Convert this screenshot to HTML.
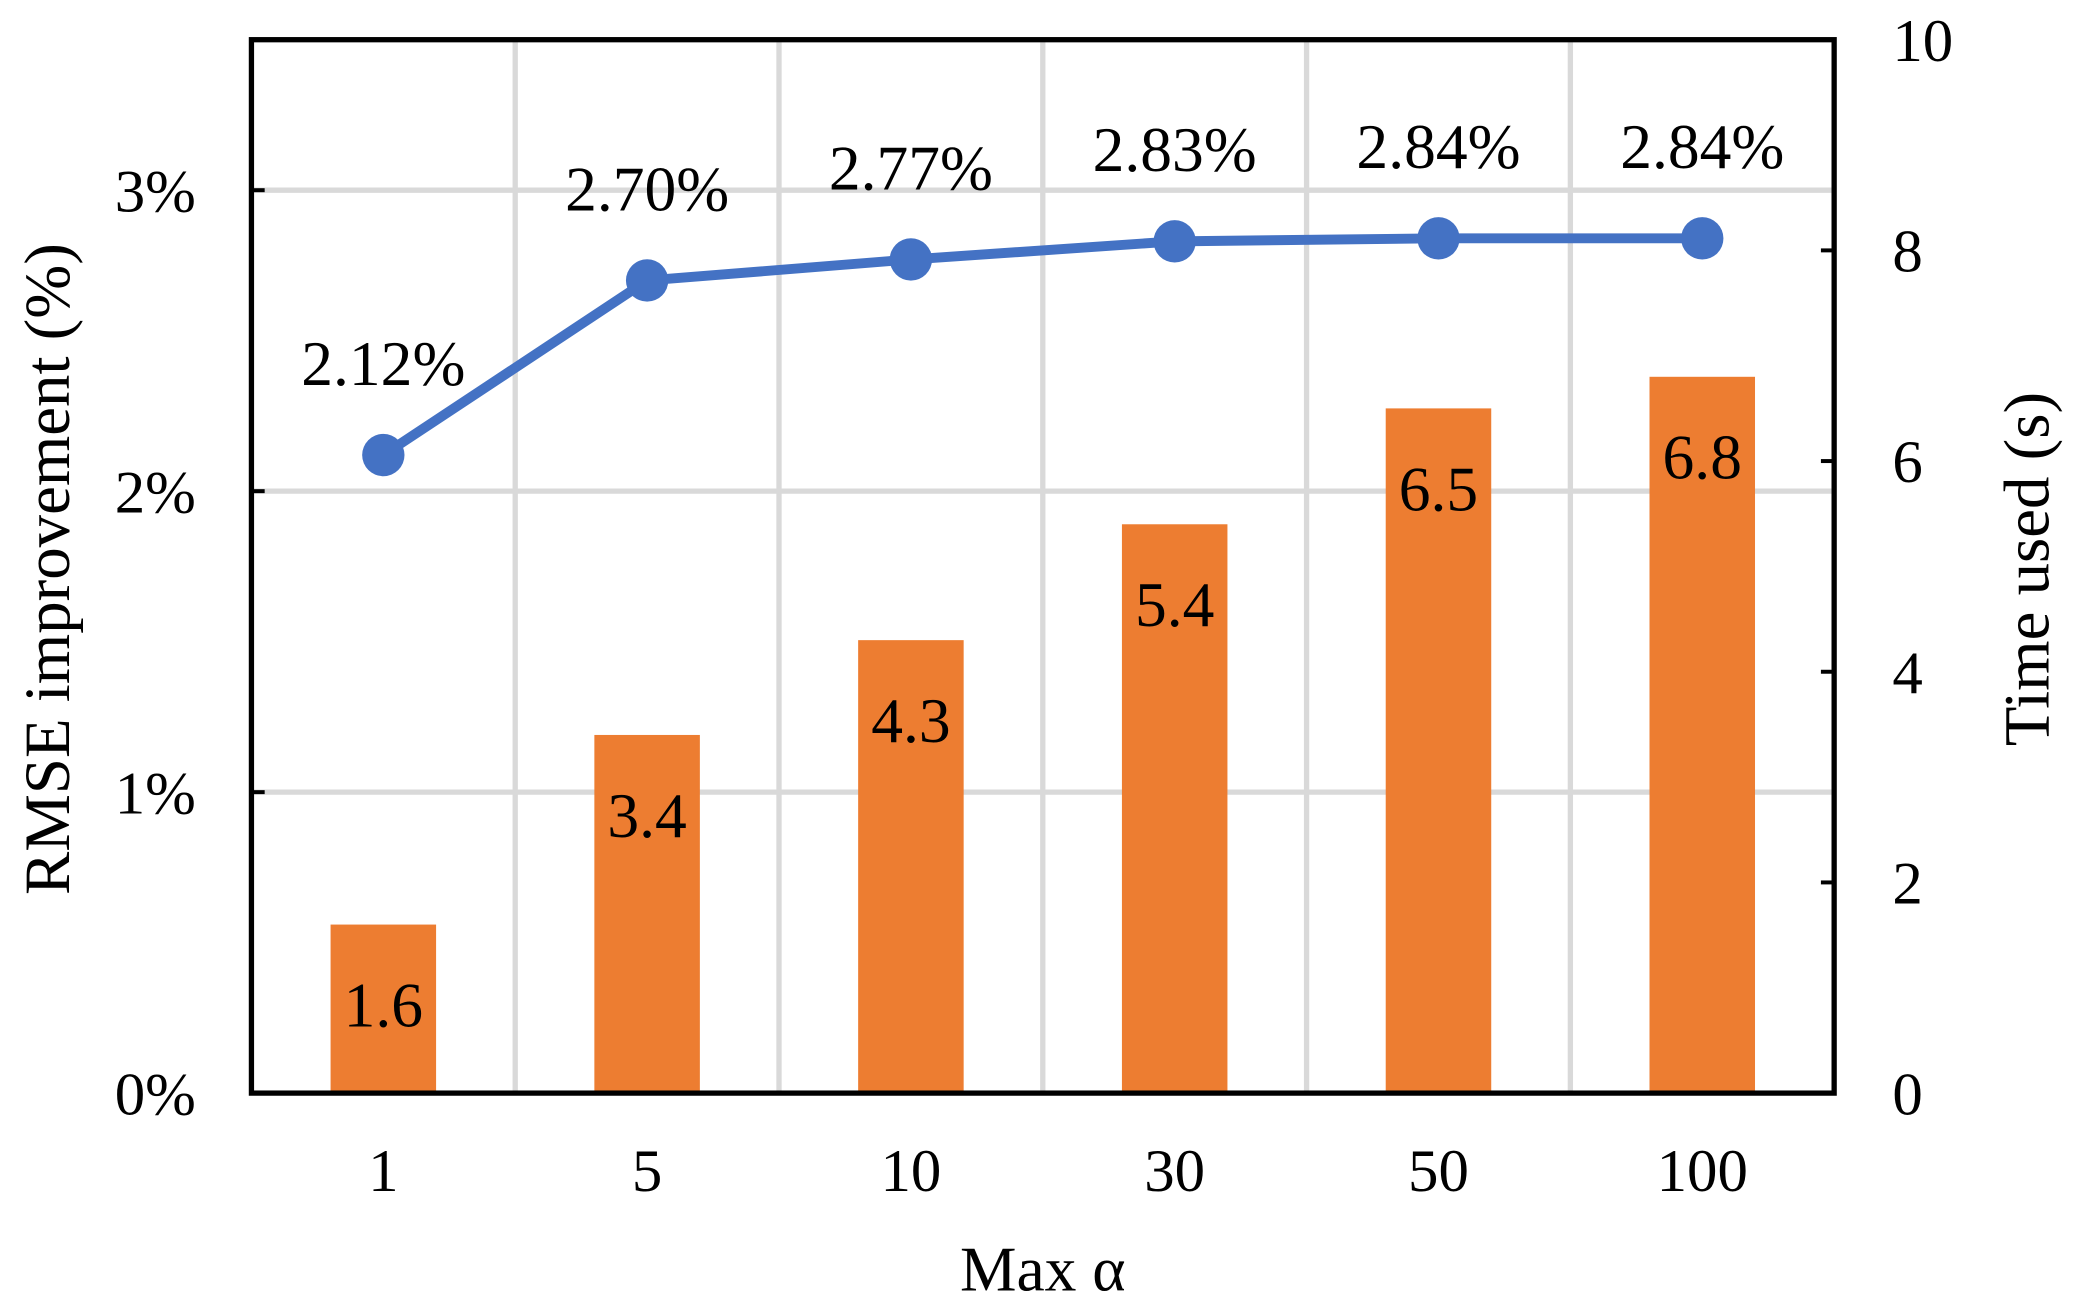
<!DOCTYPE html>
<html><head><meta charset="utf-8"><style>
html,body{margin:0;padding:0;background:#fff;}
svg{display:block;font-family:"Liberation Serif",serif;}
</style></head><body>
<svg id="chart" width="2075" height="1312" viewBox="0 0 1568 991.4" preserveAspectRatio="none" xmlns="http://www.w3.org/2000/svg">
<g id="grid"></g>
<g id="bars"></g>
<g id="line"></g>
<g id="axes"></g>
<text x="788" y="975" font-size="48" text-anchor="middle">Max α</text>
<text transform="translate(52,430) rotate(-90)" font-size="49" text-anchor="middle">RMSE improvement (%)</text>
<text transform="translate(1548,430) rotate(-90)" font-size="49" text-anchor="middle">Time used (s)</text>
</svg>
<script>
const categories=["1","5","10","30","50","100"];
const rmseValues=[2.12,2.70,2.77,2.83,2.84,2.84];
const rmseLabels=["2.12%","2.70%","2.77%","2.83%","2.84%","2.84%"];
const timeValues=[1.6,3.4,4.3,5.4,6.5,6.8];
const timeLabels=["1.6","3.4","4.3","5.4","6.5","6.8"];
const leftTicks=[0,1,2,3];
const rightTicks=[0,2,4,6,8,10];
const L=190,R=1386,T=30,B=826;
const NS="http://www.w3.org/2000/svg";
const band=(R-L)/categories.length;
const xc=i=>L+band*(i+0.5);
const yL=v=>B-(v/3.5)*(B-T);
const yR=v=>B-(v/10)*(B-T);
function mk(tag,attrs,parent,txt){const e=document.createElementNS(NS,tag);for(const k in attrs)e.setAttribute(k,attrs[k]);if(txt!==undefined)e.textContent=txt;parent.appendChild(e);return e;}
const grid=document.getElementById('grid'),bars=document.getElementById('bars'),line=document.getElementById('line'),axes=document.getElementById('axes');
for(let i=1;i<categories.length;i++){const g=mk('line',{x1:L+band*i,x2:L+band*i,y1:T,y2:B,stroke:'#d9d9d9','stroke-width':4},grid);

}
leftTicks.forEach(v=>{if(v>0){const g=mk('line',{x1:L,x2:R,y1:yL(v),y2:yL(v),stroke:'#d9d9d9','stroke-width':4},grid);

}
const tk=mk('line',{x1:L,x2:L+10,y1:yL(v),y2:yL(v),stroke:'#000','stroke-width':3},axes);


const t=mk('text',{x:148,y:yL(v)+16,'font-size':46,'text-anchor':'end'},axes,v+'%');

});
rightTicks.forEach(v=>{const tk=mk('line',{x1:R-10,x2:R,y1:yR(v),y2:yR(v),stroke:'#000','stroke-width':3},axes);


const t=mk('text',{x:1430,y:yR(v)+16,'font-size':46,'text-anchor':'start'},axes,String(v));

});
const bw=band*0.4;
timeValues.forEach((v,i)=>{const r=mk('rect',{x:xc(i)-bw/2,y:yR(v),width:bw,height:B-yR(v),fill:'#ed7d31'},bars);


const t=mk('text',{x:xc(i),y:yR(v)+77,'font-size':48,'text-anchor':'middle'},bars,timeLabels[i]);


const c=mk('text',{x:xc(i),y:900,'font-size':46,'text-anchor':'middle'},axes,categories[i]);

});
const pl=mk('polyline',{points:rmseValues.map((v,i)=>xc(i)+','+yL(v)).join(' '),fill:'none',stroke:'#4472c4','stroke-width':7.5},line);


rmseValues.forEach((v,i)=>{const c=mk('circle',{cx:xc(i),cy:yL(v),r:16,fill:'#4472c4'},line);


const t=mk('text',{x:xc(i),y:yL(v)-53,'font-size':48,'text-anchor':'middle'},line,rmseLabels[i]);

});
const fr=mk('rect',{x:L,y:T,width:R-L,height:B-T,fill:'none',stroke:'#000','stroke-width':4},axes);


</script>
</body></html>
